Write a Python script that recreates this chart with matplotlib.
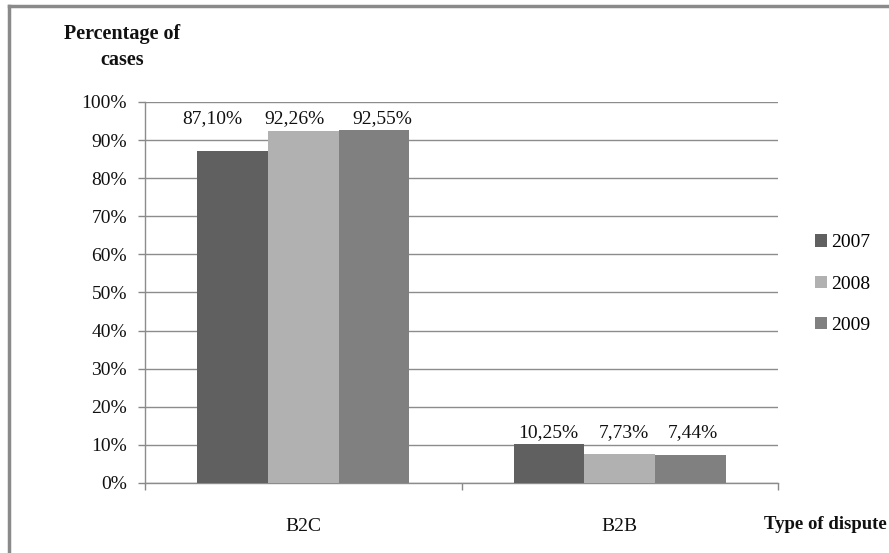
import matplotlib
matplotlib.use("Agg")
import matplotlib.pyplot as plt
from matplotlib.patches import Patch
from matplotlib.lines import Line2D
import numpy as np

# Share of cases by type of dispute and year
categories = ["B2C", "B2B"]
years = ["2007", "2008", "2009"]
values = {
    "2007": [87.10, 10.25],
    "2008": [92.26, 7.73],
    "2009": [92.55, 7.44],
}
value_labels = {
    "2007": ["87,10%", "10,25%"],
    "2008": ["92,26%", "7,73%"],
    "2009": ["92,55%", "7,44%"],
}
y_ticks = [0, 10, 20, 30, 40, 50, 60, 70, 80, 90, 100]
y_tick_labels = [f"{t}%" for t in y_ticks]

colors = {"2007": "#606060", "2008": "#b1b1b1", "2009": "#808080"}
# horizontal nudges (points) that keep neighbouring value labels apart
label_dx = {"2007": [-15, -1], "2008": [-6, 3], "2009": [6, 2]}

serif = ["Liberation Serif", "DejaVu Serif"]
plt.rcParams["font.family"] = serif

fig = plt.figure(figsize=(8.89, 5.53), dpi=100)
ax = fig.add_axes([0.1631, 0.1266, 0.7121, 0.689])

x = np.arange(len(categories))
bar_w = 0.223
for i, yr in enumerate(years):
    offs = (i - 1) * bar_w
    ax.bar(x + offs, values[yr], width=bar_w, color=colors[yr], zorder=3,
           label=yr)

# value labels sit on a common line just above the tallest bar of each group
for j in range(len(categories)):
    top = max(values[yr][j] for yr in years)
    for i, yr in enumerate(years):
        offs = (i - 1) * bar_w
        ax.annotate(value_labels[yr][j], xy=(x[j] + offs, top),
                    xytext=(label_dx[yr][j], 2), textcoords="offset points",
                    ha="center", va="bottom", fontsize=14, color="#111111",
                    zorder=4)

ax.set_xlim(-0.5, 1.5)
ax.set_ylim(0, 100)
ax.set_yticks(y_ticks)
ax.set_yticklabels(y_tick_labels, fontsize=14)
ax.tick_params(axis="y", length=5, width=1, color="#888888", pad=8,
               labelcolor="#111111")

ax.set_xticks(x)
ax.set_xticklabels(categories, fontsize=14, color="#111111")
ax.set_xticks([-0.5, 0.5, 1.5], minor=True)
ax.tick_params(axis="x", which="major", length=0, pad=25.5)
ax.tick_params(axis="x", which="minor", length=5, width=1, color="#888888")

ax.yaxis.grid(True, color="#8c8c8c", linewidth=1.0, zorder=0)
ax.set_axisbelow(True)
for side in ("top", "right"):
    ax.spines[side].set_visible(False)
for side in ("left", "bottom"):
    ax.spines[side].set_color("#8c8c8c")
    ax.spines[side].set_linewidth(1.0)

# axis titles
fig.text(0.137, 0.939, "Percentage of", ha="center", va="center",
         fontsize=14.5, fontweight="bold", color="#111111")
fig.text(0.138, 0.891, "cases", ha="center", va="center",
         fontsize=14.5, fontweight="bold", color="#111111")
fig.text(0.997, 0.051, "Type of dispute", ha="right", va="center",
         fontsize=13.5, fontweight="bold", color="#111111")

handles = [Patch(facecolor=colors[yr], edgecolor="none") for yr in years]
fig.legend(handles, years, loc="upper left",
           bbox_to_anchor=(0.917, 0.576), frameon=False, fontsize=14,
           handlelength=0.6, handleheight=0.6, handletextpad=0.2,
           labelspacing=1.25, borderpad=0, borderaxespad=0)

# outer chart frame (top and left edges)
fig.add_artist(Line2D([0.0101, 1.0], [0.989, 0.989], color="#8a8a8a",
                      linewidth=2.5, transform=fig.transFigure))
fig.add_artist(Line2D([0.0101, 0.0101], [0.0, 0.989], color="#8a8a8a",
                      linewidth=2.5, transform=fig.transFigure))

fig.savefig("out.png", dpi=100)
